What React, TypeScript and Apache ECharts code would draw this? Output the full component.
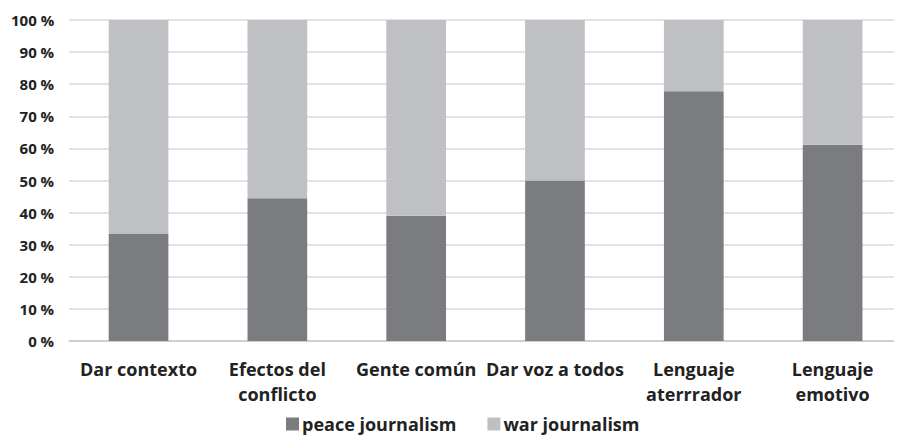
import React, { useEffect, useRef } from "react";
import * as echarts from "echarts";

const categories = ["Dar contexto", "Efectos del\nconflicto", "Gente común", "Dar voz a todos", "Lenguaje\naterrrador", "Lenguaje\nemotivo"];
const peace = [33.3, 44.5, 39, 50, 77.8, 61.1];
const war = [66.7, 55.5, 61, 50, 22.2, 38.9];
const yTicks = [0, 10, 20, 30, 40, 50, 60, 70, 80, 90, 100];

export default function App() {
  const ref = useRef<HTMLDivElement>(null);
  useEffect(() => {
    const chart = echarts.init(ref.current!, null, { renderer: "svg" });
    const font = "'Open Sans', sans-serif";
    chart.setOption({
      animation: false,
      grid: { left: 58, top: 12, width: 844, bottom: 96 },
      legend: {
        bottom: 3,
        left: 278,
        padding: 0,
        itemWidth: 13,
        itemHeight: 13,
        itemGap: 31,
        icon: "rect",
        textStyle: { fontFamily: font, fontWeight: "bold", fontSize: 18, lineHeight: 20, color: "#222", padding: [0, 0, 0, -2] },
        data: ["peace journalism", "war journalism"],
      },
      xAxis: {
        type: "category",
        data: categories,
        axisTick: { show: false },
        axisLine: { lineStyle: { color: "#c8c8c8", width: 1.5 } },
        axisLabel: {
          interval: 0,
          margin: 15,
          fontFamily: font,
          fontWeight: "bold",
          fontSize: 18,
          lineHeight: 25,
          color: "#222",
        },
      },
      yAxis: {
        type: "value",
        min: 0,
        max: 100,
        interval: 10,
        axisLabel: {
          formatter: (v: number) => (yTicks.includes(v) ? `${v} %` : ""),
          fontFamily: font,
          fontWeight: "bold",
          fontSize: 15,
          color: "#222",
          margin: 15,
        },
        splitLine: { lineStyle: { color: "#d9d9d9", width: 1.5 } },
      },
      series: [
        {
          name: "peace journalism",
          type: "bar",
          stack: "total",
          data: peace,
          barWidth: "43%",
          itemStyle: { color: "#7b7c80" },
        },
        {
          name: "war journalism",
          type: "bar",
          stack: "total",
          data: war,
          barWidth: "43%",
          itemStyle: { color: "#bfc0c4" },
        },
      ],
    });
    return () => chart.dispose();
  }, []);
  return <div ref={ref} style={{ width: 894, height: 429 }} />;
}
